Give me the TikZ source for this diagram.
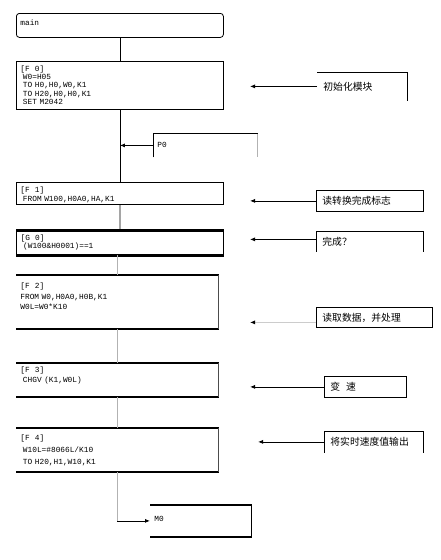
\documentclass[tikz,border=0pt]{standalone}
\usepackage{fontspec}
\setmonofont{Liberation Mono}
\newfontfamily\cjk{Noto Sans CJK SC}
\usetikzlibrary{arrows.meta}

\begin{document}
\begin{tikzpicture}[
    x=1pt, y=-1pt,
    block/.style={anchor=north west, inner xsep=4pt, inner ysep=0pt,
                  text width=#1, align=left, line width=0.8pt,
                  font=\ttfamily\fontsize{7.8}{8.5}\selectfont},
    block/.default=199pt,
    leading/.style={font=\ttfamily\fontsize{7.8}{#1}\selectfont},
    note/.style={anchor=north west, inner xsep=6pt, inner ysep=0pt,
                 text width=#1, align=left, line width=0.8pt,
                 font=\cjk\fontsize{9.8}{11}\selectfont},
    link/.style={line width=0.8pt},
    faint/.style={black!30, line width=0.8pt},
    heavy/.style={line width=#1},
    heavy/.default=2pt,
    arrow/.style={-{Latex[length=5pt, width=4pt, color=black]}, line width=0.8pt}
]
    \useasboundingbox (0,0) rectangle (440,560);

    \node[block, draw, rounded corners=3pt, text height=12pt, text depth=12pt]
      (main) at (16,13) {main};
    \node[block, draw, leading=8.2, text height=10pt, text depth=38pt]
      (f0) at (16,61) {[F~~0]\\~W0=H05\\~TO H0,H0,W0,K1\\~TO H20,H0,H0,K1\\~SET M2042};
    \node[block=96pt, text height=13.5pt, text depth=9.5pt]
      (p0) at (153,133.5) {P0};
    \node[block, draw, text height=10.5pt, text depth=11.5pt]
      (f1) at (16,182) {[F~~1]\\~FROM W100,H0A0,HA,K1};
    \node[block, draw, line width=1.2pt, text height=9.5pt, text depth=14.5pt]
      (g0) at (16,230) {[G~~0]\\~(W100\&H0001)==1};
    \node[block=194pt, leading=10.5, text height=13.5pt, text depth=39.5pt]
      (f2) at (16,275) {[F~~2]\\FROM W0,H0A0,H0B,K1\\W0L=W0*K10};
    \node[block=194pt, leading=10, text height=9.5pt, text depth=23.5pt]
      (f3) at (16,363) {[F~~3]\\~CHGV (K1,W0L)};
    \node[block=194pt, leading=12, text height=12pt, text depth=31pt]
      (f4) at (16,428) {[F~~4]\\~W10L=\#8066L/K10\\~TO H20,H1,W10,K1};
    \node[block=93pt, text height=16.5pt, text depth=14.5pt]
      (m0) at (150,505) {M0};

    \node[note=78pt, minimum height=28pt] (l1) at (317,72) {初始化模块};
    \node[note=95pt, draw, minimum height=21pt] (l2) at (316,190) {读转换完成标志};
    \node[note=95pt, minimum height=20pt] (l3) at (316,231) {完成？};
    \node[note=104pt, draw, minimum height=20pt] (l4) at (316,307) {读取数据，并处理};
    \node[note=70pt, draw, minimum height=21pt] (l5) at (324,376) {变\hspace{0.6em}速};
    \node[note=87pt, minimum height=21pt] (l6) at (324,431) {将实时速度值输出};

    \draw[link] (p0.south west) -- (p0.north west) -- (p0.north east);
    \draw[faint] (p0.north east) -- (p0.south east);
    \draw[heavy=3pt] (g0.north west) -- (g0.north east);
    \draw[heavy=3pt] (g0.south west) -- (g0.south east);
    \draw[heavy=2.2pt] (f2.north west) -- (f2.north east);
    \draw[heavy] (f2.south west) -- (f2.south east);
    \draw[link, black!70] (f2.north east) -- (f2.south east);
    \draw[heavy] (f3.north west) -- (f3.north east);
    \draw[heavy] (f3.south west) -- (f3.south east);
    \draw[link, black!70] (f3.north east) -- (f3.south east);
    \draw[heavy=1.5pt] (f4.north west) -- (f4.north east);
    \draw[heavy] (f4.south west) -- (f4.south east);
    \draw[link, black!70] (f4.north east) -- (f4.south east);
    \draw[heavy=1.1pt] (m0.north west) -- (m0.north east);
    \draw[heavy] (m0.south west) -- (m0.south east);
    \draw[link] (m0.north east) -- (m0.south east);

    \draw[link] (l1.north west) -- (l1.north east) -- (l1.south east);
    \draw[link] (l3.south west) -- (l3.north west) -- (l3.north east) -- (l3.south east);
    \draw[link] (l6.south west) -- (l6.north west) -- (l6.north east) -- (l6.south east);

    \draw[link] (main) -- (f0);
    \draw[link] (f0) -- (f1);
    \draw[link] (f1) -- (g0);
    \draw[faint] (f2.north |- g0.south) -- (f2.north);
    \draw[faint] (f2) -- (f3);
    \draw[faint] (f3) -- (f4);
    \draw[faint] (f4.south) -- (f4.south |- m0.west);
    \draw[arrow] (f4.south |- m0.west) -- (m0.west);
    \draw[arrow] (p0.west) -- (p0.west -| f0.south);

    \coordinate (tip) at (250,0);
    \coordinate (tip6) at (258,0);
    \draw[arrow] (l1.west) -- (l1.west -| tip);
    \draw[arrow] (l2.west) -- (l2.west -| tip);
    \draw[arrow] ([yshift=2pt]l3.west) -- ([yshift=2pt]l3.west -| tip);
    \draw[arrow, black!20] ([yshift=-5pt]l4.west) -- ([yshift=-5pt]l4.west -| tip);
    \draw[arrow] (l5.west) -- (l5.west -| tip);
    \draw[arrow] (l6.west) -- (l6.west -| tip6);
\end{tikzpicture}
\end{document}
